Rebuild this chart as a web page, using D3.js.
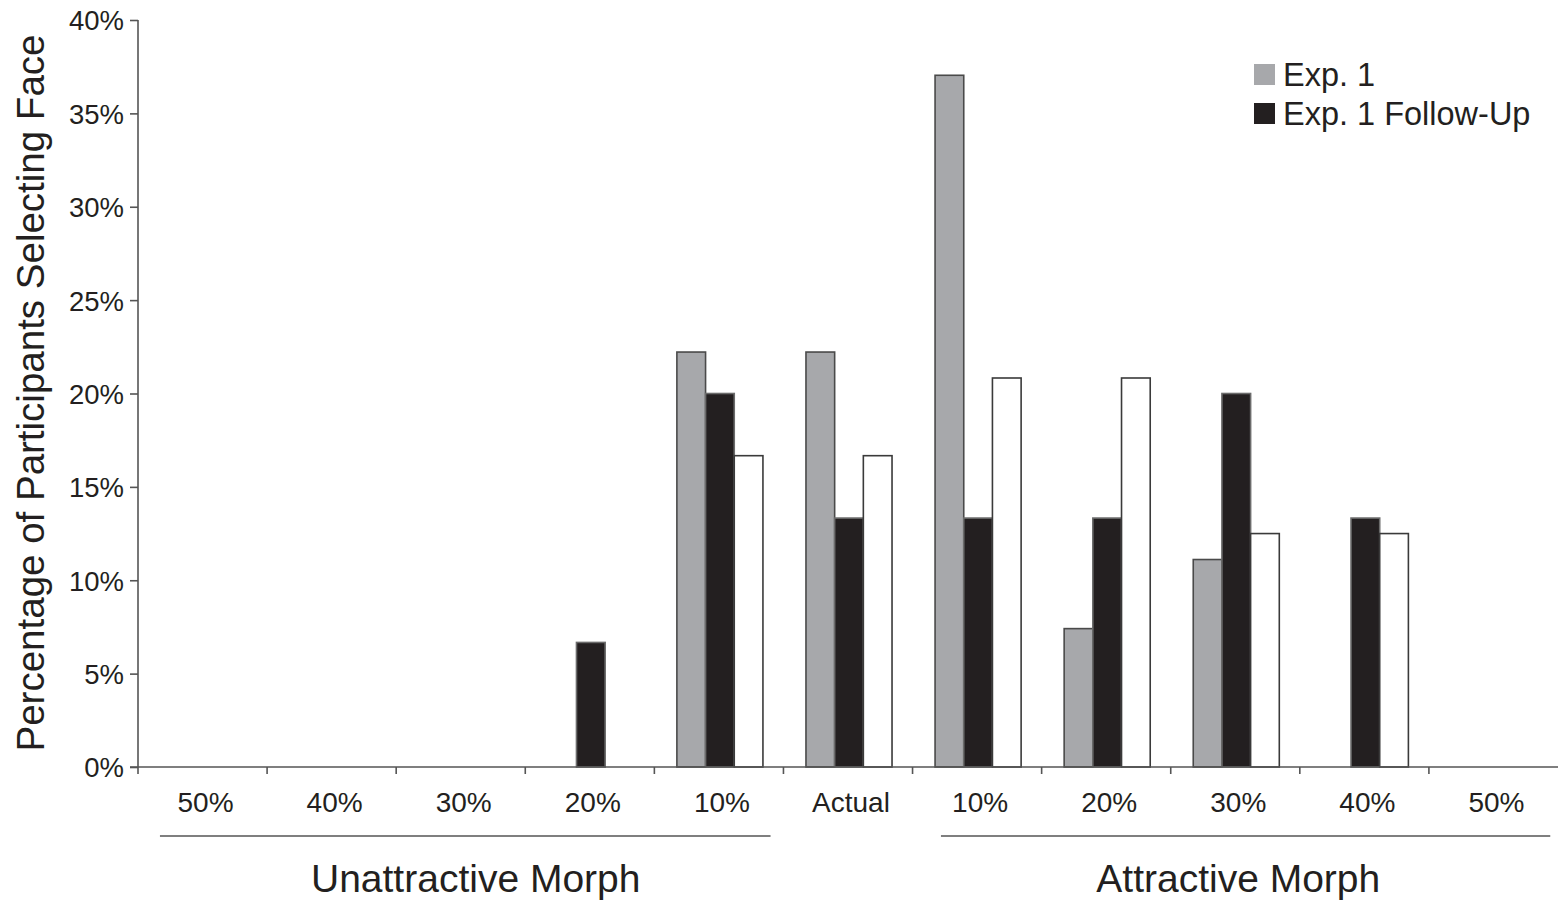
<!DOCTYPE html>
<html>
<head>
<meta charset="utf-8">
<script src="https://cdn.jsdelivr.net/npm/d3@7"></script>
<style>
  html, body { margin: 0; padding: 0; background: #fff; }
  svg { display: block; font-family: "Liberation Sans", Arial, Helvetica, sans-serif; }
</style>
</head>
<body>
<svg id="chart" width="1559" height="902"></svg>
<script>
// ---- data ----
const categories = ["U50", "U40", "U30", "U20", "U10", "Actual", "A10", "A20", "A30", "A40", "A50"];
const tickLabels = ["50%", "40%", "30%", "20%", "10%", "Actual", "10%", "20%", "30%", "40%", "50%"];
const seriesNames = ["Exp. 1", "Exp. 1 Follow-Up", "Third"];
const exp1 =        [0, 0, 0, 0,    22.22, 22.22, 37.04, 7.41,  11.11, 0,     0];
const exp1FollowUp = [0, 0, 0, 6.67, 20.00, 13.33, 13.33, 13.33, 20.00, 13.33, 0];
const third =       [0, 0, 0, 0,    16.67, 16.67, 20.83, 20.83, 12.50, 12.50, 0];
const yTicks = [0, 5, 10, 15, 20, 25, 30, 35, 40];
const groupLabels = ["Unattractive Morph", "Attractive Morph"];
const groupRanges = [["U50", "U10"], ["A10", "A50"]];
const legendItems = ["Exp. 1", "Exp. 1 Follow-Up"];

(function () {
const fills = ["#a7a8ab", "#231f20", "#ffffff"];
const strokes = ["#4a4a4a", "#6b6b6b", "#3a3a3a"];
const textColor = "#231f20";
const axisColor = "#555555";

const seriesValues = [exp1, exp1FollowUp, third];

const svg = d3.select("#chart");
const mLeft = 138, mRight = 1558, mTop = 20, mBottom = 767;

const x = d3.scaleBand().domain(categories).range([mLeft, mRight]).padding(0);
const bw = x.bandwidth();
const x1 = d3.scaleBand().domain(seriesNames).range([bw / 6, bw * 5 / 6]).padding(0);
const y = d3.scaleLinear().domain([0, 40]).range([mBottom, mTop]);

// bars
seriesNames.forEach((s, si) => {
  svg.append("g").selectAll("rect")
    .data(categories.map((c, i) => ({ c, v: seriesValues[si][i] })).filter(d => d.v > 0))
    .join("rect")
    .attr("x", d => x(d.c) + x1(s) + 1)
    .attr("y", d => y(d.v))
    .attr("width", x1.bandwidth())
    .attr("height", d => y(0) - y(d.v))
    .attr("fill", fills[si])
    .attr("stroke", strokes[si])
    .attr("stroke-width", 1.6);
});

// y axis
const yAxis = svg.append("g")
  .attr("transform", `translate(${mLeft},0)`)
  .call(d3.axisLeft(y).tickValues(yTicks).tickFormat(d => d + "%").tickSize(8).tickPadding(6));
yAxis.select(".domain").attr("stroke", axisColor).attr("stroke-width", 1.6).attr("d", `M0,${mTop}V${mBottom}`);
yAxis.selectAll(".tick line").attr("stroke", axisColor).attr("stroke-width", 1.6);
yAxis.selectAll(".tick text").attr("fill", textColor).style("font-size", "27.5px").attr("dy", "0.36em");

// x axis
const xAxis = svg.append("g")
  .attr("transform", `translate(0,${mBottom})`)
  .call(d3.axisBottom(x).tickFormat((d, i) => tickLabels[i]).tickSize(0).tickPadding(20));
xAxis.select(".domain").attr("stroke", axisColor).attr("stroke-width", 1.6).attr("d", `M${mLeft - 8},0H${mRight}`);
xAxis.selectAll(".tick text").attr("fill", textColor).style("font-size", "28px").attr("dy", "0.88em").attr("dx", 3);
// boundary ticks
svg.append("g").selectAll("line")
  .data(categories)
  .join("line")
  .attr("x1", d => x(d)).attr("x2", d => x(d))
  .attr("y1", mBottom).attr("y2", mBottom + 7)
  .attr("stroke", axisColor).attr("stroke-width", 1.6);

// group brackets and labels
const bracketStart = [0.17, 0.22];
const bracketEnd = [0.9, 0.94];
const labelShift = [15, 3];
groupRanges.forEach((r, gi) => {
  const xa = x(r[0]) + bw * bracketStart[gi];
  const xb = x(r[1]) + bw * bracketEnd[gi];
  svg.append("line")
    .attr("x1", xa).attr("x2", xb)
    .attr("y1", 836).attr("y2", 836)
    .attr("stroke", axisColor).attr("stroke-width", 1.6);
  svg.append("text")
    .attr("x", (x(r[0]) + x(r[1]) + bw) / 2 + labelShift[gi])
    .attr("y", 892)
    .attr("text-anchor", "middle")
    .attr("fill", textColor)
    .style("font-size", "39px")
    .text(groupLabels[gi]);
});

// y title
svg.append("text")
  .attr("transform", "translate(44,393) rotate(-90)")
  .attr("text-anchor", "middle")
  .attr("fill", textColor)
  .style("font-size", "38.5px")
  .text("Percentage of Participants Selecting Face");

// legend
const legend = svg.append("g").attr("transform", "translate(1254,64)");
legendItems.forEach((name, i) => {
  const g = legend.append("g").attr("transform", `translate(0,${i * 39})`);
  g.append("rect").attr("width", 21).attr("height", 21).attr("fill", fills[i]);
  g.append("text").attr("x", 29).attr("y", 22).attr("fill", textColor)
    .style("font-size", "32.5px").text(name);
});
})();
</script>
</body>
</html>
